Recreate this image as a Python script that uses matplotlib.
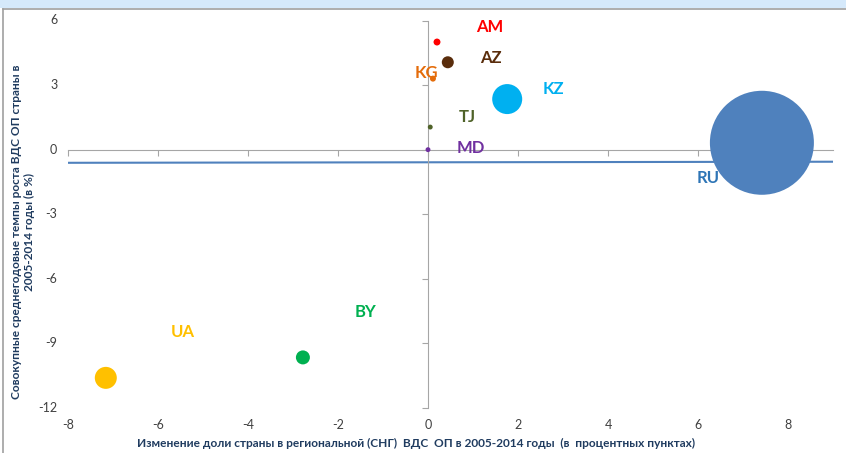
import matplotlib.pyplot as plt
import matplotlib.transforms as mtransforms
from matplotlib.patches import Rectangle
import numpy as np

plt.rcParams['font.family'] = ['Lato', 'DejaVu Sans']

# данные по странам
countries = ['AM', 'AZ', 'KG', 'KZ', 'TJ', 'MD', 'RU', 'BY', 'UA']
share_change = [0.2, 0.44, 0.11, 1.76, 0.05, 0.0, 7.42, -2.78, -7.16]
growth = [5.0, 4.06, 3.3, 2.35, 1.05, 0.0, 0.32, -9.65, -10.6]
bubble_value = [12, 36, 9, 225, 6, 6, 2704, 49, 121]
colors = ['#FF0000', '#5A2D0C', '#E46C0A', '#00B0F0', '#4F6228',
          '#7030A0', '#4F81BD', '#00B050', '#FFC000']
label_x = [1.38, 1.4, -0.04, 2.78, 0.87, 0.96, 6.22, -1.38, -5.44]
label_y = [5.68, 4.25, 3.55, 2.8, 1.52, 0.1, -1.3, -7.52, -8.45]
label_colors = ['#FF0000', '#5A2D0C', '#E46C0A', '#00B0F0', '#4F6228',
                '#7030A0', '#2E75B6', '#00B050', '#FFC000']

trend_x = [-8, 9]
trend_y = [-0.61, -0.56]

xticks = [-8, -6, -4, -2, 0, 2, 4, 6, 8]
yticks = [-12, -9, -6, -3, 0, 3, 6]

fig = plt.figure(figsize=(8.46, 4.53), dpi=100)
ax = fig.add_axes([68/846, 1-408/453, (833-68)/846, (408-20.5)/453])
ax.set_xlim(-8, 9)
ax.set_ylim(-12, 6)

# рамка и полоса сверху
fig.patches.append(Rectangle((0, 1-8/453), 1, 8/453, transform=fig.transFigure,
                             facecolor='#D5E9FB', edgecolor='none', zorder=0))
fig.add_artist(plt.Line2D([3/846, 1], [1-8.5/453, 1-8.5/453], transform=fig.transFigure,
                          color='#A0A0A0', lw=1.2))
fig.add_artist(plt.Line2D([3/846, 3/846], [0, 1-8.5/453], transform=fig.transFigure,
                          color='#A0A0A0', lw=1.2))

for s in ['top', 'right']:
    ax.spines[s].set_visible(False)
ax.spines['left'].set_position(('data', 0))
ax.spines['bottom'].set_position(('data', 0))
ax.spines['left'].set_color('#A6A6A6')
ax.spines['bottom'].set_color('#A6A6A6')
ax.set_xticks(xticks)
ax.set_yticks(yticks)
ax.tick_params(axis='both', direction='out', length=4, color='#A6A6A6',
               labelleft=False, labelbottom=False)

# подписи делений снаружи
tx = mtransforms.blended_transform_factory(ax.transData, ax.transAxes)
ty = mtransforms.blended_transform_factory(ax.transAxes, ax.transData)
for v in xticks:
    ax.text(v, -0.045, str(v), transform=tx, ha='center', va='center',
            fontsize=9, color='#404040')
for v in yticks:
    ax.text(-0.014, v, str(v), transform=ty, ha='right', va='center',
            fontsize=9, color='#404040')

# линия тренда
ax.plot(trend_x, trend_y, color='#4F81BD', lw=1.5, zorder=2)

# пузырьки
r_px = np.sqrt(np.array(bubble_value, dtype=float))
sizes = (2 * r_px * 0.72) ** 2
ax.scatter(share_change, growth, s=sizes, c=colors, zorder=3, linewidths=0)

for name, x, y, c in zip(countries, label_x, label_y, label_colors):
    ax.text(x, y, name, color=c, fontsize=12, fontweight='bold',
            ha='center', va='center', zorder=4)

fig.text(416/846, 1-443/453,
         'Изменение доли страны в региональной (СНГ)  ВДС  ОП в 2005-2014 годы  (в  процентных пунктах)',
         ha='center', va='center', fontsize=8.6, fontweight='bold', color='#1F3B5F')
fig.text(23/846, 1-232/453,
         'Совокупные среднегодовые темпы роста ВДС ОП страны в\n2005-2014 годы (в %)',
         ha='center', va='center', rotation=90, fontsize=8.6, fontweight='bold',
         color='#1F3B5F', linespacing=1.2, multialignment='center')

fig.savefig('out.png', dpi=100)
